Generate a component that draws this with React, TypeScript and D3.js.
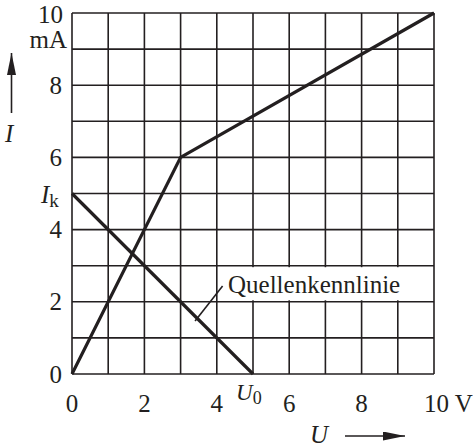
import React from "react";
import * as d3 from "d3";

// Device characteristic I(U) and the linear source line (Quellenkennlinie)
const characteristicU = [0, 3, 10];
const characteristicI = [0, 6, 10];
const sourceU = [0, 5];
const sourceI = [5, 0];

const gridSteps = d3.range(0, 11);
const xTickValues = [0, 2, 4, 6, 8];
const yTickValues = [0, 2, 4, 6, 8];

const W = 473;
const H = 447;
const FONT = '"Liberation Serif", "Times New Roman", Times, serif';

export default function App() {
  const x = d3.scaleLinear().domain([0, 10]).range([72, 434]);
  const y = d3.scaleLinear().domain([0, 10]).range([374, 13]);

  const line = d3
    .line<[number, number]>()
    .x((d) => x(d[0]))
    .y((d) => y(d[1]));

  const charPts = characteristicU.map((u, k) => [u, characteristicI[k]] as [number, number]);
  const srcPts = sourceU.map((u, k) => [u, sourceI[k]] as [number, number]);

  const fs = 25;
  const ink = "#231f20";

  return (
    <svg
      width={W}
      height={H}
      style={{ position: "absolute", left: 0, top: 0, background: "#fff", fontFamily: FONT }}
    >
      <defs>
        <marker id="arrowHead" viewBox="0 0 22 9" refX="22" refY="4.5" markerWidth="22" markerHeight="9" markerUnits="userSpaceOnUse" orient="auto">
          <path d="M0,0 L22,4.5 L0,9 z" fill={ink} />
        </marker>
      </defs>
      {/* grid */}
      <g stroke={ink} strokeWidth={1.6}>
        {gridSteps.map((v) => (
          <line key={"v" + v} x1={x(v)} x2={x(v)} y1={y(0)} y2={y(10)} />
        ))}
        {gridSteps.map((v) => (
          <line key={"h" + v} x1={x(0)} x2={x(10)} y1={y(v)} y2={y(v)} />
        ))}
      </g>

      {/* label background for the source line annotation */}
      <rect x={x(4.2)} y={y(3) + 1.5} width={x(9.3) - x(4.2)} height={y(2) - y(3) - 3} fill="#fff" />

      {/* curves */}
      <path d={line(charPts) || ""} fill="none" stroke={ink} strokeWidth={3.2} strokeLinejoin="miter" />
      <path d={line(srcPts) || ""} fill="none" stroke={ink} strokeWidth={3.2} />

      {/* leader line to the annotation */}
      <line x1={x(3.4)} y1={y(1.47)} x2={x(4.16)} y2={y(2.44)} stroke={ink} strokeWidth={1.6} />
      <text x={228} y={y(2) - 9} fontSize={fs} fill={ink}>Quellenkennlinie</text>

      {/* x tick labels */}
      <g fontSize={fs} fill={ink} textAnchor="middle">
        {xTickValues.map((v) => (
          <text key={v} x={x(v)} y={412}>{v}</text>
        ))}
        <text x={424} y={412} textAnchor="start">10 V</text>
      </g>
      <text x={236} y={399.5} fontSize={23} fill={ink} fontStyle="italic">U<tspan fontStyle="normal" fontSize={18} dy={4}>0</tspan></text>

      {/* y tick labels */}
      <g fontSize={fs} fill={ink} textAnchor="end">
        {yTickValues.map((v) => (
          <text key={v} x={62} y={y(v) + 8.5}>{v}</text>
        ))}
        <text x={63} y={y(10) + 9.5}>10</text>
        <text x={67} y={48}>mA</text>
      </g>
      <text x={41} y={203} fontSize={fs} fill={ink} fontStyle="italic">I<tspan fontStyle="normal" fontSize={19} dy={4}>k</tspan></text>

      {/* axis names with arrows */}
      <line x1={11.5} y1={113} x2={11.5} y2={53} stroke={ink} strokeWidth={1.6} markerEnd="url(#arrowHead)" />
      <text x={5} y={142} fontSize={fs} fill={ink} fontStyle="italic">I</text>
      <text x={310} y={443} fontSize={fs} fill={ink} fontStyle="italic">U</text>
      <line x1={345} y1={436} x2={405} y2={436} stroke={ink} strokeWidth={1.6} markerEnd="url(#arrowHead)" />
    </svg>
  );
}
